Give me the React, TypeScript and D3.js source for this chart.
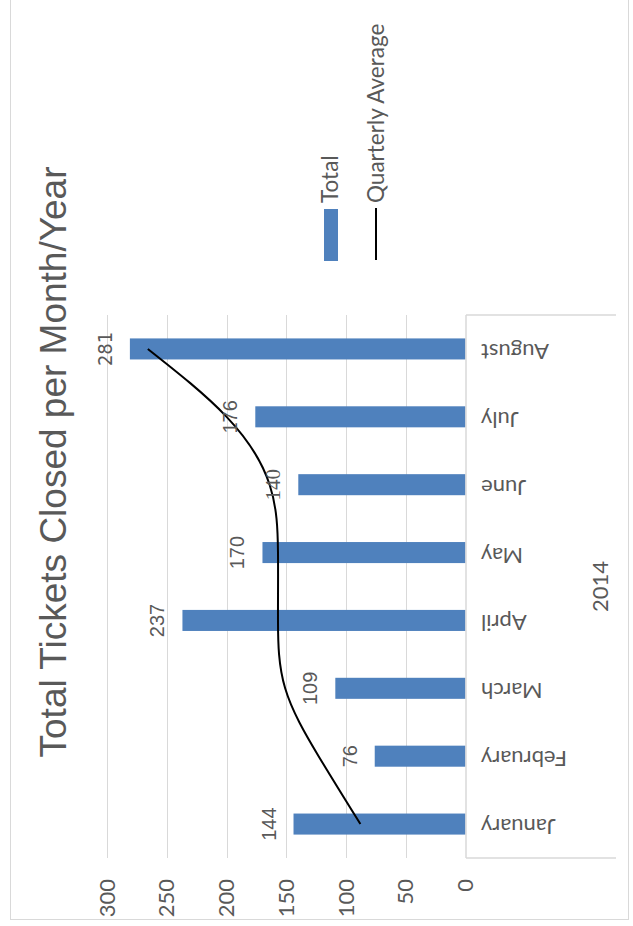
import React from "react";
import * as d3 from "d3";

// Monthly ticket totals for 2014 and the smoothed quarterly average
const months = ["January", "February", "March", "April", "May", "June", "July", "August"];
const totals = [144, 76, 109, 237, 170, 140, 176, 281];
const quarterlyAverage = [88, 123, 151, 157, 157, 164, 200, 266];
const valueTicks = [0, 50, 100, 150, 200, 250, 300];
const yearLabel = "2014";
const chartTitle = "Total Tickets Closed per Month/Year";
const seriesNames = ["Total", "Quarterly Average"];

const W = 633;
const H = 926;
const BLUE = "#4F81BD";
const GRID = "#D9D9D9";
const TEXT = "#595959";
const AXIS_FONT = "Lato, 'Open Sans', sans-serif";
const AXIS_SIZE = 22;
const LABEL_FONT = "'Liberation Sans', Arial, sans-serif";

// per-label font overrides (the 140 and 281 labels are set in other faces)
const labelFonts: Record<number, { family: string; stretch?: string; size: number }> = {
  140: { family: "'Liberation Serif', 'Times New Roman', serif", size: 21 },
  281: { family: "'Liberation Sans Narrow', 'DejaVu Sans Condensed', 'Roboto Condensed', 'Liberation Sans', sans-serif", stretch: "condensed", size: 20 },
};

export default function App() {
  // The chart is laid out turned on its side: values run right-to-left, months bottom-to-top.
  const x = d3.scaleLinear().domain([0, 300]).range([465.5, 107.2]);
  const y = d3.scaleBand<string>().domain(months).range([858, 315]).padding(0);
  const bw = y.bandwidth();
  const cy = (m: string) => (y(m) as number) + bw / 2;
  const barThickness = bw * 0.31;
  const plotTop = 315;
  const plotBottom = 858;

  const avgLine = d3
    .line<number>()
    .x((d) => x(d))
    .y((_, i) => cy(months[i]))
    .curve(d3.curveNatural);

  return (
    <svg
      width={W}
      height={H}
      style={{ position: "absolute", left: 0, top: 0, background: "#fff" }}
    >
      {/* chart area border */}
      <rect x={10.5} y={-2} width={618} height={921.5} fill="#fff" stroke={GRID} strokeWidth={1} />

      {/* title */}
      <text
        transform={`translate(66,462) rotate(-90)`}
        textAnchor="middle"
        fontFamily={LABEL_FONT}
        fontSize={37}
        fill={TEXT}
      >
        {chartTitle}
      </text>

      {/* value gridlines */}
      {valueTicks
        .filter((t) => t > 0)
        .map((t) => (
          <line
            key={`g${t}`}
            x1={Math.round(x(t)) + 0.5}
            x2={Math.round(x(t)) + 0.5}
            y1={plotTop}
            y2={plotBottom}
            stroke={GRID}
            strokeWidth={1}
          />
        ))}

      {/* value tick labels */}
      {valueTicks.map((t) => (
        <text
          key={`t${t}`}
          transform={`translate(${x(t) + 7.5},879) rotate(-90)`}
          textAnchor="end"
          fontFamily={AXIS_FONT}
          fontSize={AXIS_SIZE}
          fill={TEXT}
        >
          {t}
        </text>
      ))}

      {/* bars */}
      {totals.map((v, i) => (
        <rect
          key={`b${i}`}
          x={x(v)}
          y={cy(months[i]) - barThickness / 2}
          width={x(0) - x(v)}
          height={barThickness}
          fill={BLUE}
        />
      ))}

      {/* category axis and group separators */}
      <line x1={466} x2={466} y1={plotTop} y2={plotBottom} stroke={GRID} strokeWidth={1.5} />
      <line x1={466} x2={616} y1={plotTop} y2={plotTop} stroke={GRID} strokeWidth={1.5} />
      <line x1={466} x2={616} y1={plotBottom} y2={plotBottom} stroke={GRID} strokeWidth={1.5} />

      {/* month labels */}
      {months.map((m) => (
        <text
          key={`m${m}`}
          transform={`translate(481,${cy(m)}) rotate(180)`}
          y={5}
          textAnchor="end"
          fontFamily={AXIS_FONT}
          fontSize={AXIS_SIZE}
          fill={TEXT}
        >
          {m}
        </text>
      ))}

      {/* year label */}
      <text
        transform={`translate(608,${(plotTop + plotBottom) / 2}) rotate(-90)`}
        textAnchor="middle"
        fontFamily={AXIS_FONT}
        fontSize={AXIS_SIZE}
        fill={TEXT}
      >
        {yearLabel}
      </text>

      {/* quarterly average curve */}
      <path d={avgLine(quarterlyAverage) ?? ""} fill="none" stroke="#000" strokeWidth={2} />

      {/* data labels */}
      {totals.map((v, i) => {
        const f = labelFonts[v];
        return (
          <text
            key={`l${i}`}
            transform={`translate(${x(v) - 18},${cy(months[i])}) rotate(-90)`}
            textAnchor="middle"
            fontFamily={f ? f.family : LABEL_FONT}
            fontStretch={f?.stretch}
            fontSize={f ? f.size : 20}
            fill={TEXT}
          >
            {v}
          </text>
        );
      })}

      {/* legend */}
      <rect x={324} y={209} width={14} height={52} fill={BLUE} />
      <text
        transform={`translate(338,203) rotate(-90)`}
        fontFamily={AXIS_FONT}
        fontSize={22.5}
        fill={TEXT}
      >
        {seriesNames[0]}
      </text>
      <line x1={376} x2={376} y1={208} y2={260} stroke="#000" strokeWidth={2} />
      <text
        transform={`translate(384,203) rotate(-90)`}
        fontFamily={AXIS_FONT}
        fontSize={22.5}
        fill={TEXT}
      >
        {seriesNames[1]}
      </text>
    </svg>
  );
}
